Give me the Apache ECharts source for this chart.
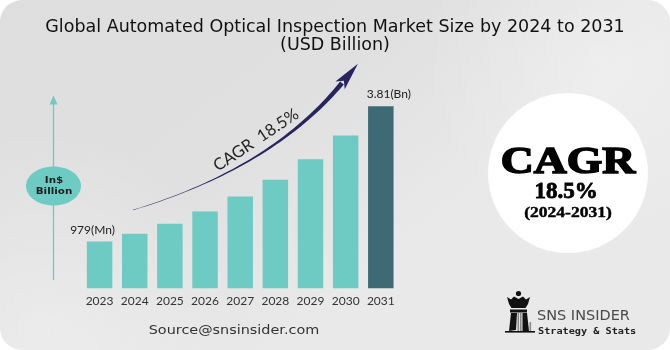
<!DOCTYPE html>
<html>
<head>
<meta charset="utf-8">
<script src="https://cdn.jsdelivr.net/npm/echarts@6/dist/echarts.min.js"></script>
<style>
  html, body { margin: 0; padding: 0; background: #ffffff; }
  #chart { width: 670px; height: 350px; }
</style>
</head>
<body>
<div id="chart"></div>
<script>
// Market size, USD billion
const years = ['2023', '2024', '2025', '2026', '2027', '2028', '2029', '2030', '2031'];
const marketSize = [0.979, 1.14, 1.35, 1.61, 1.92, 2.27, 2.70, 3.20, 3.81];
const titleText = 'Global Automated Optical Inspection Market Size by 2024 to 2031\n(USD Billion)';
const cagrRate = '18.5%';
const cagrPeriod = '(2024-2031)';
const unitLines = ['In$', 'Billion'];
const sourceText = 'Source@snsinsider.com';

const TEAL = '#6dcbc4';
const DARK_TEAL = '#3d6a74';
const NAVY = '#27245f';

const chart = echarts.init(document.getElementById('chart'), null, { renderer: 'canvas' });

// Tapered growth arrow (quadratic curve widening toward the head)
function growthArrow() {
  const p0 = [133, 210], c = [272, 168], p2 = [342, 83];
  const left = [], right = [];
  const n = 40;
  for (let i = 0; i <= n; i++) {
    const t = i / n, u = 1 - t;
    const x = u * u * p0[0] + 2 * u * t * c[0] + t * t * p2[0];
    const y = u * u * p0[1] + 2 * u * t * c[1] + t * t * p2[1];
    const dx = 2 * u * (c[0] - p0[0]) + 2 * t * (p2[0] - c[0]);
    const dy = 2 * u * (c[1] - p0[1]) + 2 * t * (p2[1] - c[1]);
    const len = Math.hypot(dx, dy);
    const nx = -dy / len, ny = dx / len;
    const w = (0.4 + 4.4 * Math.pow(t, 1.6)) / 2;
    left.push([x + nx * w, y + ny * w]);
    right.push([x - nx * w, y - ny * w]);
  }
  const body = left.concat(right.reverse());
  const dxh = p2[0] - c[0], dyh = p2[1] - c[1];
  const lh = Math.hypot(dxh, dyh);
  const ux = dxh / lh, uy = dyh / lh, nx = -uy, ny = ux;
  const tip = [p2[0] + ux * 25, p2[1] + uy * 25];
  const head = [
    tip,
    [p2[0] - ux * 3 + nx * 6, p2[1] - uy * 3 + ny * 6],
    [p2[0] + ux * 3, p2[1] + uy * 3],
    [p2[0] - ux * 3 - nx * 6, p2[1] - uy * 3 - ny * 6]
  ];
  return [
    { type: 'polygon', shape: { points: body }, style: { fill: NAVY }, z: 5 },
    { type: 'polygon', shape: { points: head }, style: { fill: NAVY }, z: 5 }
  ];
}

// Rook emblem of the brand mark
function rookLogo() {
  const k = '#111111', g = '#8a8a8a';
  return [
    { type: 'circle', shape: { cx: 518.5, cy: 293.5, r: 2.6 }, style: { fill: k } },
    { type: 'polygon', shape: { points: [
      [507, 297], [511, 299.5], [514, 296.5], [518.5, 299], [523, 296.5], [526, 299.5], [530, 297],
      [528, 304], [525.5, 308], [511.5, 308], [509, 304]
    ] }, style: { fill: k } },
    { type: 'rect', shape: { x: 510, y: 309.5, width: 17, height: 3 }, style: { fill: k } },
    { type: 'polygon', shape: { points: [[511, 313], [517, 313], [516, 330], [509, 331]] }, style: { fill: k } },
    { type: 'rect', shape: { x: 517.5, y: 313, width: 1.6, height: 18 }, style: { fill: g } },
    { type: 'rect', shape: { x: 520, y: 313, width: 1.6, height: 18 }, style: { fill: g } },
    { type: 'polygon', shape: { points: [[522.5, 313], [527, 313], [529, 331], [522.5, 331]] }, style: { fill: k } },
    { type: 'rect', shape: { x: 529.5, y: 322, width: 1.6, height: 9 }, style: { fill: g } },
    { type: 'rect', shape: { x: 505, y: 331, width: 30, height: 1.6 }, style: { fill: k } }
  ];
}

const graphics = [
  // Card background
  {
    type: 'rect', z: -10, silent: true,
    shape: { x: 0, y: 0, width: 670, height: 350, r: 22 },
    style: {
      fill: {
        type: 'linear', x: 0, y: 0, x2: 0.4, y2: 1,
        colorStops: [{ offset: 0, color: '#dedede' }, { offset: 0.6, color: '#e0e0e0' }, { offset: 1, color: '#e9e9e9' }]
      }
    }
  },
  {
    type: 'circle', z: -9, silent: true,
    shape: { cx: 40, cy: 330, r: 200 },
    style: {
      fill: {
        type: 'radial', x: 0.5, y: 0.5, r: 0.5,
        colorStops: [{ offset: 0, color: 'rgba(255,255,255,0.35)' }, { offset: 1, color: 'rgba(255,255,255,0)' }]
      }
    }
  },
  {
    type: 'circle', z: -9, silent: true,
    shape: { cx: 600, cy: 60, r: 180 },
    style: {
      fill: {
        type: 'radial', x: 0.5, y: 0.5, r: 0.5,
        colorStops: [{ offset: 0, color: 'rgba(255,255,255,0.25)' }, { offset: 1, color: 'rgba(255,255,255,0)' }]
      }
    }
  },
  // Vertical unit arrow
  { type: 'line', shape: { x1: 53.5, y1: 103, x2: 53.5, y2: 280 }, style: { stroke: TEAL, lineWidth: 1.3 } },
  { type: 'polygon', shape: { points: [[53.5, 95.5], [57.5, 104.5], [49.5, 104.5]] }, style: { fill: TEAL } },
  { type: 'ellipse', shape: { cx: 53.5, cy: 186, rx: 27.5, ry: 19.5 }, style: { fill: TEAL } },
  {
    type: 'text', x: 54, y: 181, scaleX: 1.15,
    style: { text: unitLines[0], font: 'bold 9px "DejaVu Sans"', fill: '#1c1c1c', align: 'center', verticalAlign: 'middle' }
  },
  {
    type: 'text', x: 54, y: 192, scaleX: 1.15,
    style: { text: unitLines[1], font: 'bold 9px "DejaVu Sans"', fill: '#1c1c1c', align: 'center', verticalAlign: 'middle' }
  },
  // Rotated CAGR caption along the arrow
  {
    type: 'text', x: 256, y: 140, rotation: 0.59, z: 6,
    style: { text: 'CAGR  ' + cagrRate, font: '16.5px Lato', fill: '#222222', align: 'center', verticalAlign: 'middle' }
  },
  // CAGR badge
  { type: 'circle', shape: { cx: 568, cy: 173, r: 80 }, style: { fill: '#ffffff' } },
  {
    type: 'text', x: 568, y: 163, scaleX: 1.2,
    style: { text: 'CAGR', font: 'bold 38px "Liberation Serif"', fill: '#000000', stroke: '#000000', lineWidth: 1.6, align: 'center', verticalAlign: 'middle' }
  },
  {
    type: 'text', x: 566, y: 192,
    style: { text: cagrRate, font: 'bold 23px "Liberation Serif"', fill: '#000000', stroke: '#000000', lineWidth: 0.8, align: 'center', verticalAlign: 'middle' }
  },
  {
    type: 'text', x: 568, y: 213, scaleX: 1.25,
    style: { text: cagrPeriod, font: 'bold 14px "Liberation Serif"', fill: '#000000', stroke: '#000000', lineWidth: 0.4, align: 'center', verticalAlign: 'middle' }
  },
  // Source line
  {
    type: 'text', x: 234, y: 331, scaleX: 1.2,
    style: { text: sourceText, font: '12px "DejaVu Sans"', fill: '#333333', align: 'center', verticalAlign: 'middle' }
  },
  // Brand mark
  {
    type: 'text', x: 537, y: 316,
    style: { text: 'SNS INSIDER', font: '14.5px "DejaVu Sans"', fill: '#4a4a4a', align: 'left', verticalAlign: 'middle' }
  },
  {
    type: 'text', x: 538, y: 332, scaleX: 1.2,
    style: { text: 'Strategy & Stats', font: 'bold 8.5px "DejaVu Sans Mono"', fill: '#222222', align: 'left', verticalAlign: 'middle' }
  }
].concat(growthArrow(), rookLogo());

const option = {
  animation: false,
  title: {
    text: titleText,
    left: 'center',
    top: 13,
    textStyle: { fontFamily: 'DejaVu Sans', fontSize: 17.5, fontWeight: 'normal', color: '#111111', lineHeight: 18 }
  },
  grid: { left: 82, right: 271.6, top: 73.3, bottom: 61.7, containLabel: false },
  xAxis: {
    type: 'category',
    data: years,
    axisLine: { show: false },
    axisTick: { show: false },
    axisLabel: { color: '#333333', fontSize: 12, fontFamily: 'Lato', margin: 7, interval: 0 }
  },
  yAxis: {
    type: 'value', min: 0, max: 4.5, show: false
  },
  series: [{
    type: 'bar',
    barWidth: 25.5,
    data: marketSize.map((v, i) => ({
      value: v,
      itemStyle: { color: i === marketSize.length - 1 ? DARK_TEAL : TEAL },
      label: i === 0
        ? { show: true, position: 'top', distance: 5, offset: [-7, 0], formatter: () => Math.round(v * 1000) + '(Mn)' }
        : i === marketSize.length - 1
          ? { show: true, position: 'top', distance: 6, offset: [8, 0], formatter: () => v.toFixed(2) + '(Bn)' }
          : { show: false }
    })),
    label: { color: '#222222', fontSize: 12, fontFamily: 'Lato' }
  }],
  graphic: graphics
};

chart.setOption(option);
</script>
</body>
</html>
